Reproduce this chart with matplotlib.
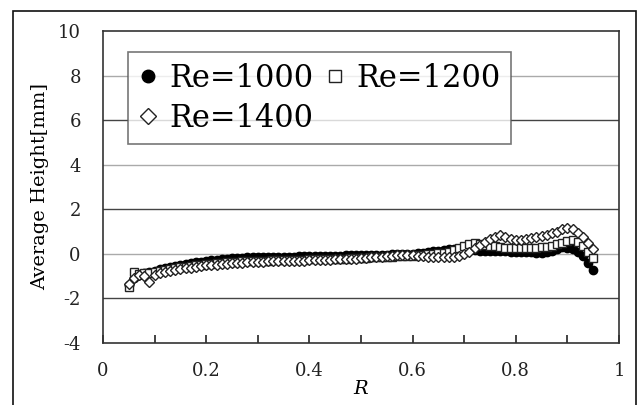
import numpy as np
import matplotlib
matplotlib.use("Agg")
import matplotlib.pyplot as plt
from matplotlib.patches import Rectangle

plt.rcParams['font.family'] = ['DejaVu Serif']

R = [0.05, 0.06, 0.07, 0.08, 0.09, 0.10, 0.11, 0.12, 0.13, 0.14,
     0.15, 0.16, 0.17, 0.18, 0.19, 0.20, 0.21, 0.22, 0.23, 0.24,
     0.25, 0.26, 0.27, 0.28, 0.29, 0.30, 0.31, 0.32, 0.33, 0.34,
     0.35, 0.36, 0.37, 0.38, 0.39, 0.40, 0.41, 0.42, 0.43, 0.44,
     0.45, 0.46, 0.47, 0.48, 0.49, 0.50, 0.51, 0.52, 0.53, 0.54,
     0.55, 0.56, 0.57, 0.58, 0.59, 0.60, 0.61, 0.62, 0.63, 0.64,
     0.65, 0.66, 0.67, 0.68, 0.69, 0.70, 0.71, 0.72, 0.73, 0.74,
     0.75, 0.76, 0.77, 0.78, 0.79, 0.80, 0.81, 0.82, 0.83, 0.84,
     0.85, 0.86, 0.87, 0.88, 0.89, 0.90, 0.91, 0.92, 0.93, 0.94, 0.95]

re1000 = [-1.40, -1.10, -0.95, -0.88, -0.82, -0.76, -0.70, -0.65, -0.60, -0.55,
          -0.50, -0.46, -0.42, -0.38, -0.35, -0.32, -0.29, -0.26, -0.24, -0.22,
          -0.20, -0.18, -0.17, -0.16, -0.15, -0.15, -0.14, -0.14, -0.13, -0.13,
          -0.12, -0.12, -0.12, -0.11, -0.11, -0.10, -0.10, -0.10, -0.09, -0.09,
          -0.08, -0.08, -0.07, -0.07, -0.06, -0.06, -0.05, -0.05, -0.04, -0.04,
          -0.03, -0.02, -0.02, -0.01, 0.00, 0.00, 0.02, 0.05, 0.08, 0.12,
          0.15, 0.18, 0.20, 0.22, 0.22, 0.20, 0.18, 0.16, 0.15, 0.14,
          0.14, 0.13, 0.12, 0.11, 0.10, 0.10, 0.09, 0.08, 0.07, 0.06,
          0.06, 0.08, 0.14, 0.22, 0.30, 0.28, 0.20, 0.08, -0.10, -0.40, -0.72]

re1200 = [-1.50, -0.80, -0.92, -0.85, -0.84, -0.80, -0.76, -0.72, -0.68, -0.64,
          -0.61, -0.58, -0.55, -0.52, -0.49, -0.46, -0.44, -0.42, -0.40, -0.38,
          -0.37, -0.35, -0.34, -0.33, -0.32, -0.31, -0.30, -0.30, -0.29, -0.28,
          -0.28, -0.27, -0.27, -0.26, -0.26, -0.25, -0.25, -0.24, -0.24, -0.23,
          -0.22, -0.22, -0.21, -0.20, -0.19, -0.18, -0.17, -0.16, -0.15, -0.14,
          -0.13, -0.12, -0.11, -0.10, -0.09, -0.08, -0.06, -0.04, -0.02, 0.00,
          0.03, 0.06, 0.10, 0.16, 0.25, 0.36, 0.45, 0.50, 0.46, 0.40,
          0.36, 0.33, 0.30, 0.28, 0.26, 0.25, 0.25, 0.26, 0.27, 0.28,
          0.30, 0.32, 0.36, 0.42, 0.50, 0.58, 0.60, 0.52, 0.35, 0.10, -0.20]

re1400 = [-1.35, -1.10, -0.95, -1.00, -1.25, -0.95, -0.85, -0.80, -0.75, -0.72,
          -0.68, -0.65, -0.62, -0.58, -0.55, -0.52, -0.50, -0.48, -0.46, -0.44,
          -0.42, -0.40, -0.39, -0.38, -0.37, -0.36, -0.35, -0.34, -0.34, -0.33,
          -0.32, -0.32, -0.31, -0.30, -0.30, -0.29, -0.28, -0.28, -0.27, -0.26,
          -0.25, -0.24, -0.23, -0.22, -0.21, -0.20, -0.18, -0.16, -0.14, -0.12,
          -0.10, -0.08, -0.06, -0.05, -0.05, -0.06, -0.08, -0.10, -0.12, -0.13,
          -0.14, -0.15, -0.15, -0.12, -0.08, 0.00, 0.10, 0.25, 0.40, 0.55,
          0.65, 0.75, 0.85, 0.75, 0.65, 0.60, 0.62, 0.68, 0.72, 0.76,
          0.80, 0.85, 0.92, 1.00, 1.10, 1.15, 1.10, 0.95, 0.75, 0.50, 0.20]

yticks = [-4, -2, 0, 2, 4, 6, 8, 10]
xlabels = ['0', '0.2', '0.4', '0.6', '0.8', '1']

fig = plt.figure(figsize=(6.42, 4.05), dpi=100)
ax = fig.add_axes([0.1604, 0.1531, 0.8038, 0.7704])

# outer frame round the whole chart
fig.patches.append(Rectangle((13 / 642, -0.05), 623 / 642, 1.05 - 11 / 405,
                             transform=fig.transFigure, fill=False,
                             edgecolor='#111111', linewidth=1.2))

# horizontal grid, alternating shades like the original
for i, yv in enumerate(yticks[1:-1]):
    c = '#444444' if i % 2 == 0 else '#aaaaaa'
    ax.axhline(yv, color=c, linewidth=1.0, zorder=0)

ms = 6
ax.plot(R, re1000, 'o', ms=ms, mfc='black', mec='black', mew=1.0, label='Re=1000')
ax.plot(R, re1200, 's', ms=ms, mfc='white', mec='#222222', mew=1.0, label='Re=1200')
ax.plot(R, re1400, 'D', ms=ms * 0.85, mfc='white', mec='#222222', mew=1.0, label='Re=1400')

ax.set_xlim(0, 1)
ax.set_ylim(-4, 10)
ax.set_yticks(yticks)
ax.set_yticklabels([str(v) for v in yticks])
ax.set_xticks([0, 0.2, 0.4, 0.6, 0.8, 1.0])
ax.set_xticklabels(xlabels)
ax.set_xticks([0.1, 0.3, 0.5, 0.7, 0.9], minor=True)
ax.tick_params(axis='x', which='both', direction='in', length=6, width=1.2,
               pad=14, labelsize=13, colors='#222222')
ax.tick_params(axis='y', length=0, pad=16, labelsize=13, colors='#222222')
for s in ax.spines.values():
    s.set_color('#333333')
    s.set_linewidth(1.2)

ax.set_ylabel('Average Height[mm]', fontsize=14, labelpad=6)
ax.set_xlabel('R', fontsize=14, style='italic', labelpad=0)

handles, labels = ax.get_legend_handles_labels()
order = [0, 2, 1]
leg = ax.legend([handles[i] for i in order], [labels[i] for i in order],
                ncol=2, loc='upper left', bbox_to_anchor=(0.048, 0.933),
                borderaxespad=0, fontsize=22, markerscale=1.5, frameon=True,
                fancybox=False, edgecolor='#555555', handlelength=0.6,
                handletextpad=0.4, columnspacing=0.4, borderpad=0.35,
                labelspacing=0.3)
leg.get_frame().set_linewidth(1.2)

fig.savefig('out.png', dpi=100)
